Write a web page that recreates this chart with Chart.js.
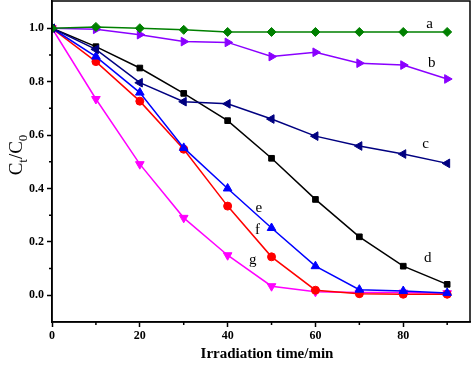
<!DOCTYPE html>
<html><head><meta charset="utf-8">
<script src="https://cdn.jsdelivr.net/npm/chart.js@4"></script>
<style>html,body{margin:0;padding:0;background:#fff;}#wrap{width:471px;height:367px;}</style>
</head><body><div id="wrap"><canvas id="c"></canvas></div>
<script>
const times = [0, 10, 20, 30, 40, 50, 60, 70, 80, 90];
const seriesA = [1.0, 1.005, 1.0, 0.994, 0.986, 0.986, 0.986, 0.986, 0.986, 0.986];
const seriesB = [1.0, 0.996, 0.976, 0.95, 0.947, 0.894, 0.91, 0.869, 0.862, 0.81];
const seriesC = [1.0, 0.921, 0.796, 0.725, 0.717, 0.66, 0.596, 0.559, 0.529, 0.494];
const seriesD = [1.0, 0.931, 0.851, 0.756, 0.654, 0.513, 0.359, 0.219, 0.109, 0.041];
const seriesE = [1.0, 0.894, 0.759, 0.552, 0.4, 0.252, 0.109, 0.021, 0.016, 0.009];
const seriesF = [1.0, 0.875, 0.727, 0.547, 0.334, 0.144, 0.019, 0.006, 0.004, 0.004];
const seriesG = [1.0, 0.735, 0.491, 0.29, 0.15, 0.034, 0.013, 0.01, 0.01, 0.008];
const seriesNames = ['a', 'b', 'c', 'd', 'e', 'f', 'g'];
const labelPos = [[86.0, 1.016], [86.5, 0.871], [85.1, 0.566], [85.6, 0.139], [47.1, 0.326], [46.8, 0.244], [45.7, 0.131]];
const xTicks = [0, 20, 40, 60, 80];
const xMinor = [10, 30, 50, 70, 90];
const yTicks = [0.0, 0.2, 0.4, 0.6, 0.8, 1.0];
const yMinor = [0.1, 0.3, 0.5, 0.7, 0.9];
const xTitle = 'Irradiation time/min';

const allSeries = [seriesA, seriesB, seriesC, seriesD, seriesE, seriesF, seriesG];
const styles = [
  {color: '#008000', point: 'rectRot', rot: 0, r: 4.5},
  {color: '#8a00ff', point: 'triangle', rot: 90, r: 5},
  {color: '#000080', point: 'triangle', rot: -90, r: 5},
  {color: '#000000', point: 'rect', rot: 0, r: 4},
  {color: '#0000ff', point: 'triangle', rot: 0, r: 5},
  {color: '#ff0000', point: 'circle', rot: 0, r: 4},
  {color: '#ff00ff', point: 'triangle', rot: 180, r: 5}
];

const datasets = allSeries.map((s, i) => ({
  label: seriesNames[i],
  data: s.map((v, j) => ({x: times[j], y: v})),
  borderColor: styles[i].color,
  backgroundColor: styles[i].color,
  borderWidth: 1.5,
  pointStyle: styles[i].point,
  pointRotation: styles[i].rot,
  pointRadius: styles[i].r,
  pointBorderWidth: 1,
  tension: 0
}));

const serif = '"Liberation Serif", "DejaVu Serif", serif';

const deco = {
  id: 'deco',
  afterDraw(chart) {
    const ctx = chart.ctx, a = chart.chartArea;
    const xs = chart.scales.x, ys = chart.scales.y;
    ctx.save();
    ctx.strokeStyle = '#000';
    ctx.lineWidth = 1.5;
    ctx.strokeRect(a.left, a.top, a.right - a.left, a.bottom - a.top);
    ctx.beginPath();
    xMinor.forEach(v => { const p = xs.getPixelForValue(v); ctx.moveTo(p, a.bottom); ctx.lineTo(p, a.bottom + 3); });
    yMinor.forEach(v => { const p = ys.getPixelForValue(v); ctx.moveTo(a.left, p); ctx.lineTo(a.left - 3, p); });
    ctx.stroke();
    ctx.fillStyle = '#000';
    ctx.font = '15px ' + serif;
    ctx.textAlign = 'center';
    ctx.textBaseline = 'middle';
    seriesNames.forEach((n, i) => {
      ctx.fillText(n, xs.getPixelForValue(labelPos[i][0]), ys.getPixelForValue(labelPos[i][1]));
    });
    ctx.font = 'bold 15px ' + serif;
    ctx.textBaseline = 'alphabetic';
    ctx.fillText(xTitle, 267, 358);
    ctx.translate(22, 155);
    ctx.rotate(-Math.PI / 2);
    ctx.textAlign = 'left';
    const big = '19px ' + serif, small = '13px ' + serif;
    const parts = [['C', big, 0], ['t', small, 5], ['/C', big, 0], ['0', small, 5]];
    let w = 0;
    parts.forEach(p => { ctx.font = p[1]; w += ctx.measureText(p[0]).width; });
    let x = -w / 2;
    parts.forEach(p => { ctx.font = p[1]; ctx.fillText(p[0], x, p[2]); x += ctx.measureText(p[0]).width; });
    ctx.restore();
  }
};

const noPad = s => { s.paddingTop = 0; s.paddingBottom = 0; s.paddingLeft = 0; s.paddingRight = 0; };

new Chart(document.getElementById('c'), {
  type: 'line',
  data: {datasets},
  options: {
    responsive: true,
    maintainAspectRatio: false,
    animation: false,
    layout: {autoPadding: false, padding: {top: 1, right: 1, left: 0, bottom: 0}},
    plugins: {legend: {display: false}, tooltip: {enabled: false}},
    scales: {
      x: {
        type: 'linear', min: 0, max: 95.2,
        afterBuildTicks: s => { s.ticks = xTicks.map(v => ({value: v})); },
        afterFit: s => { s.height = 45; noPad(s); },
        grid: {drawOnChartArea: false, tickLength: 5, tickWidth: 1.5, tickColor: '#000'},
        border: {color: '#000', width: 1.5},
        ticks: {color: '#000', font: {family: serif, weight: 'bold', size: 12}, padding: 2, maxRotation: 0, callback: v => v}
      },
      y: {
        type: 'linear', min: -0.1, max: 1.102,
        afterBuildTicks: s => { s.ticks = yTicks.map(v => ({value: v})); },
        afterFit: s => { s.width = 52; noPad(s); },
        grid: {drawOnChartArea: false, tickLength: 5, tickWidth: 1.5, tickColor: '#000'},
        border: {color: '#000', width: 1.5},
        ticks: {color: '#000', font: {family: serif, weight: 'bold', size: 12}, padding: 3, callback: v => Number(v).toFixed(1)}
      }
    }
  },
  plugins: [deco]
});
</script></body></html>
